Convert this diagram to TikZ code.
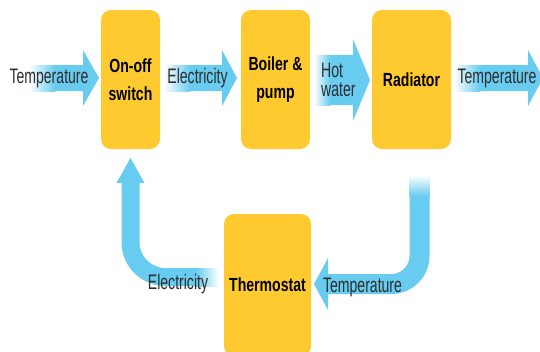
\documentclass[tikz,border=0pt]{standalone}
\usepackage{fontspec}
\usepackage{tikz}
\usetikzlibrary{positioning,calc}
\newfontfamily\labelfont[FakeStretch=0.67]{Liberation Sans}
\newfontfamily\boxfont[FakeStretch=0.74]{Liberation Sans}
\definecolor{BoxYellow}{RGB}{255,202,48}
\definecolor{FlowBlue}{RGB}{104,204,240}
\definecolor{LabelGray}{RGB}{45,45,45}
% straight flow arrow: start, tip, body half, head half, head length, fade length
\newcommand{\flowarrow}[6]{%
  \fill[FlowBlue] ($(#1)+(0,-#3)$) -- ($(#2)+(-#5,-#3)$) -- ($(#2)+(-#5,-#4)$) -- (#2)
    -- ($(#2)+(-#5,#4)$) -- ($(#2)+(-#5,#3)$) -- ($(#1)+(0,#3)$) -- cycle;
  \shade[left color=white, right color=FlowBlue] ($(#1)+(-1,-#3)$) rectangle ($(#1)+(#6,#3)$);}

\begin{document}
\begin{tikzpicture}[x=1pt, y=-1pt,
    box/.style={rounded corners=10pt, fill=BoxYellow, minimum height=139pt, inner sep=0pt, outer sep=0pt, align=center, font=\boxfont\bfseries\fontsize{19}{28}\selectfont},
    lbl/.style={inner sep=0pt, text=LabelGray, font=\labelfont\fontsize{21}{19}\selectfont}
  ]
    \useasboundingbox (0,0) rectangle (540,351);
    \clip (0,0) rectangle (540,351);
    \node[box, minimum width=59pt] (switch) at (130.5,79.5) {On-off\\switch};
    \node[box, minimum width=69pt, right=81pt of switch] (boiler) {Boiler \&\\pump};
    \node[box, minimum width=79pt, right=62pt of boiler] (radiator) {Radiator};
    \node[box, minimum width=87pt, minimum height=142pt] (thermostat) at (267.5,285) {Thermostat};

    \coordinate (inlet) at (30,78);
    \coordinate (intip) at ($(switch.west)+(-2,-1.5)$);
    \coordinate (e1) at ($(switch.east)+(5,-1.5)$);
    \coordinate (e2) at ($(boiler.west)+(-4,-1.5)$);
    \coordinate (h1) at ($(boiler.east)+(5,0.5)$);
    \coordinate (h2) at ($(radiator.west)+(-2,0.5)$);
    \coordinate (t1) at ($(radiator.east)+(4,-1.5)$);
    \coordinate (outlet) at (543,78);
    \flowarrow{inlet}{intip}{13}{28}{16}{25}
    \flowarrow{e1}{e2}{13}{28}{15}{25}
    \flowarrow{h1}{h2}{25}{41}{17}{15}
    \flowarrow{t1}{outlet}{13}{28}{15}{25}

    \coordinate (rstart) at ($(radiator.south)+(8,27)$);
    \coordinate (rtip) at ($(thermostat.east)+(3,-1)$);
    \draw[FlowBlue, line width=20pt, rounded corners=28pt] (rstart) |- ($(rtip)+(13,0)$);
    \fill[FlowBlue] ($(rtip)+(14,-26)$) -- (rtip) -- ($(rtip)+(14,26)$) -- cycle;
    \shade[top color=white, bottom color=FlowBlue] ($(rstart)+(-10,-1)$) rectangle ($(rstart)+(10,20)$);

    \coordinate (lstart) at ($(thermostat.west)+(-6,-8)$);
    \coordinate (ltip) at ($(switch.south)+(0,9)$);
    \draw[FlowBlue, line width=18pt, rounded corners=35pt] (lstart) -| ($(ltip)+(0,24)$);
    \fill[FlowBlue] ($(ltip)+(-14,25)$) -- (ltip) -- ($(ltip)+(14,25)$) -- cycle;
    \shade[left color=FlowBlue, right color=white] ($(lstart)+(-22,-9)$) rectangle ($(lstart)+(1,9)$);

    \node[lbl, anchor=base] (tempin) at (49,83) {Temperature};
    \node[lbl, anchor=base] (elec) at (197.5,83) {Electricity};
    \node[lbl, anchor=base west, align=left] (hot) at (321,96) {Hot\\water};
    \node[lbl, anchor=base] (tempout) at (497,83) {Temperature};
    \node[lbl, anchor=base] (tempback) at (362.5,292) {Temperature};
    \node[lbl, anchor=base] (elecback) at (178,289) {Electricity};
  \end{tikzpicture}
\end{document}
